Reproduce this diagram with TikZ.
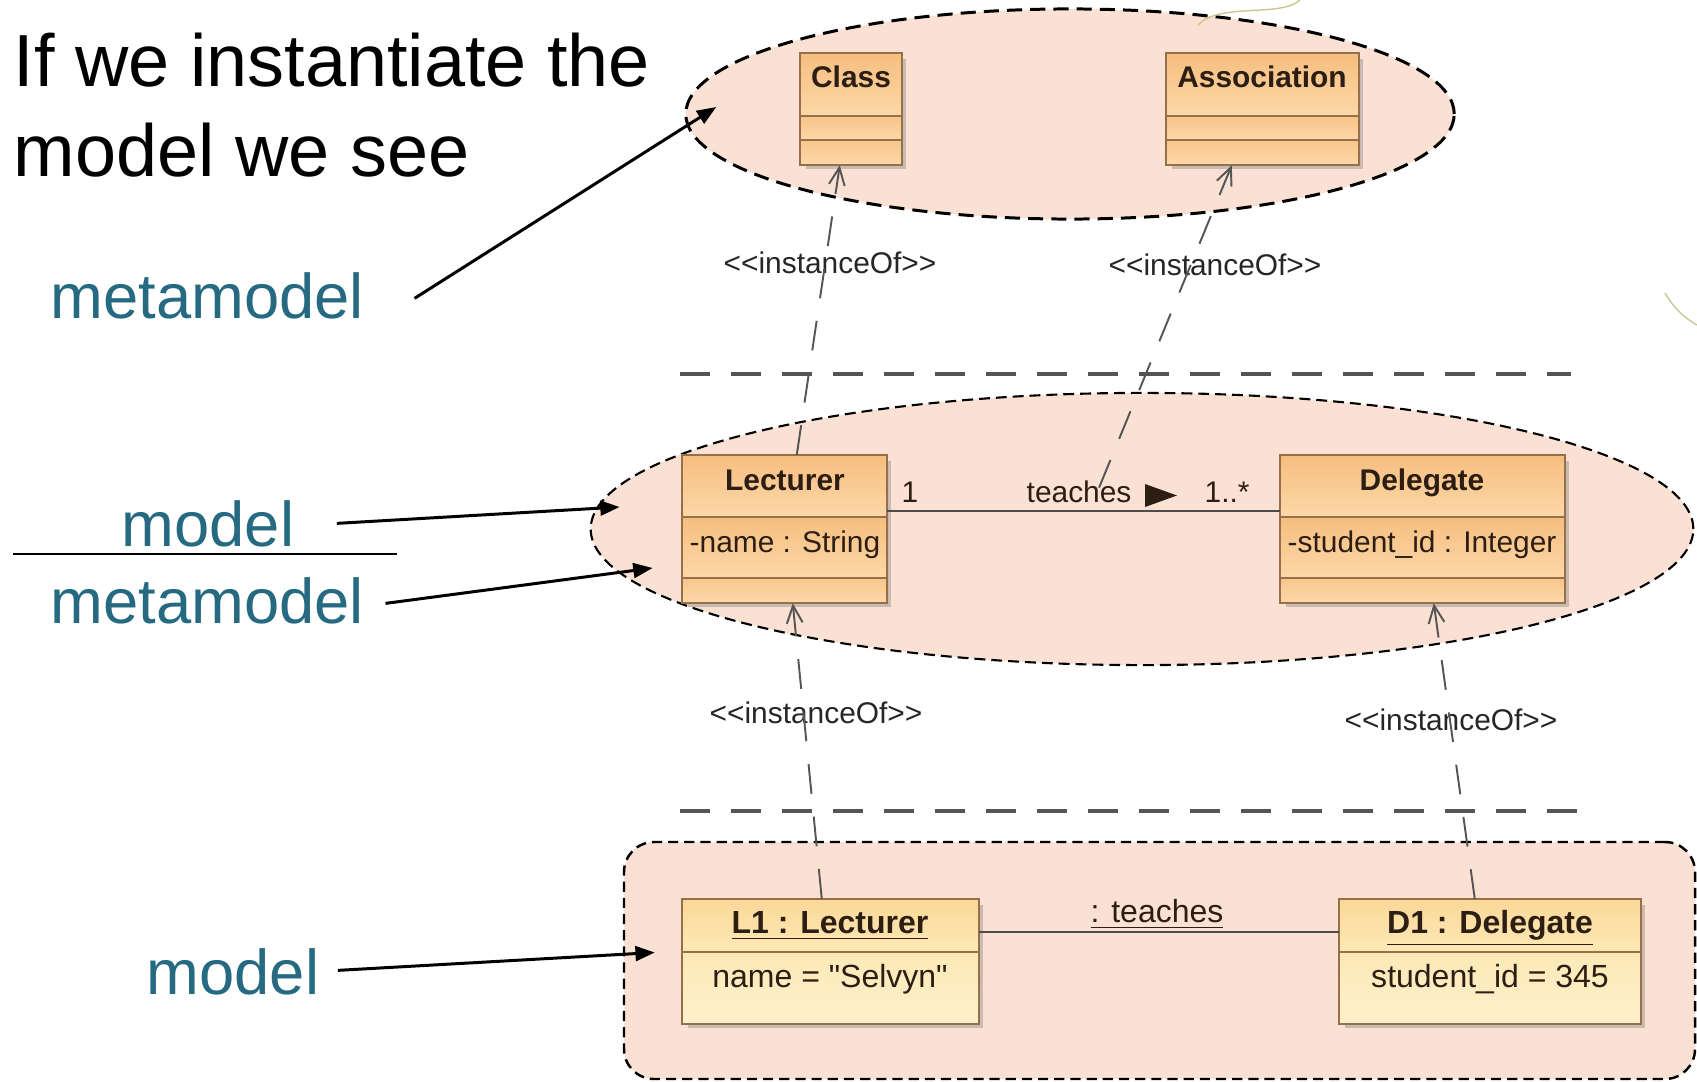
\documentclass[tikz,border=0pt]{standalone}
\usepackage{fontspec}
\setmainfont{Liberation Sans}
\usetikzlibrary{arrows.meta,fit,calc,shadows,shapes.geometric}

\definecolor{labelteal}{RGB}{38,106,130}
\definecolor{regionfill}{RGB}{251,225,212}
\definecolor{boxborder}{RGB}{150,112,72}
\definecolor{clstop}{RGB}{246,190,128}
\definecolor{clsbot}{RGB}{252,216,168}
\definecolor{objtop}{RGB}{251,216,152}
\definecolor{objbot}{RGB}{253,233,182}
\definecolor{depgray}{RGB}{85,85,85}
\definecolor{boxtext}{RGB}{45,30,20}
\definecolor{scribble}{RGB}{205,198,140}

\newcommand\umlsize{\fontsize{8.5}{10}\selectfont}
\newcommand\objsize{\fontsize{9.1}{11}\selectfont}
\newcommand\instanceof{<\kern0pt<instanceOf>\kern0pt>}
% a straight double quote, from a font loaded without the TeX text mapping
\font\plainsans="Liberation Sans" at 9.1pt
\newcommand\straightquote{{\plainsans\char"22}}
% one gradient strip of a class compartment
\newcommand\shadepart[4]{\shade[top color=#1,bottom color=#2] (#3) rectangle (#4);}

\begin{document}
\begin{tikzpicture}[x=0.01cm,y=-0.01cm,
  bigtext/.style={inner sep=0, anchor=base west, font=\fontsize{21}{25}\selectfont},
  sidelabel/.style={inner sep=0, anchor=base west, text=labelteal, font=\fontsize{18}{22}\selectfont},
  pointer/.style={line width=0.85pt, -{Triangle[length=5.5pt,width=4.2pt]}},
  region/.style={draw=black, fill=regionfill, inner sep=0},
  umlbox/.style={draw=boxborder, line width=0.7pt, inner sep=0, fill=clsbot,
    drop shadow={shadow xshift=1.3pt, shadow yshift=-1.3pt, fill=black!50, opacity=0.4}},
  objbox/.style={umlbox, fill=objbot},
  sep/.style={draw=boxborder, line width=0.7pt},
  cname/.style={inner sep=0, anchor=base, text=boxtext, font=\umlsize\bfseries},
  ctext/.style={inner sep=0, anchor=base west, text=boxtext, font=\umlsize},
  oname/.style={inner sep=0, anchor=base, text=boxtext, font=\objsize\bfseries},
  otext/.style={inner sep=0, anchor=base, text=boxtext, font=\objsize},
  stereo/.style={inner sep=0, text=black!85, font=\umlsize},
  dep/.style={draw=depgray, line width=0.55pt, dash pattern=on 8.5pt off 6.5pt,
    -{Straight Barb[length=5pt,width=4.5pt]}},
  level/.style={draw=depgray, line width=0.9pt, dash pattern=on 8.5pt off 6pt},
  assoc/.style={draw=black!70, line width=0.7pt},
]
\useasboundingbox (0,0) rectangle (1697,1082);

% ---- the three levels ----
\node[region, ellipse, line width=0.85pt, dash pattern=on 4.3pt off 2.3pt,
      minimum width=7.68cm, minimum height=2.10cm] (metaregion) at (1070,114) {};
\node[region, ellipse, line width=0.6pt, dash pattern=on 3.1pt off 1.7pt,
      minimum width=11.02cm, minimum height=2.72cm] (modelregion) at (1142,529) {};
\node[region, rectangle, line width=0.7pt, dash pattern=on 2.9pt off 1.7pt,
      rounded corners=0.3cm, fit={(624,842)(1695,1079)}] (objregion) {};

\draw[level] (680,374) -- (1571,374);
\draw[level] (680,811) -- (1591,811);

% ---- metamodel classes ----
\node[umlbox, fit={(801,54)(901,164)}] (cls) {};
\shadepart{clstop}{clsbot}{801,54}{901,116}
\shadepart{clstop!80!clsbot}{clsbot}{801,116}{901,140}
\shadepart{clstop!70!clsbot}{clsbot}{801,140}{901,164}
\draw[sep] (cls.north west) rectangle (cls.south east);
\draw[sep] (801,116) -- (901,116) (801,140) -- (901,140);
\node[cname] (clsname) at (851,88) {Class};

\node[umlbox, fit={(1167,54)(1358,164)}] (assocbox) {};
\shadepart{clstop}{clsbot}{1167,54}{1358,116}
\shadepart{clstop!80!clsbot}{clsbot}{1167,116}{1358,140}
\shadepart{clstop!70!clsbot}{clsbot}{1167,140}{1358,164}
\draw[sep] (assocbox.north west) rectangle (assocbox.south east);
\draw[sep] (1167,116) -- (1358,116) (1167,140) -- (1358,140);
\node[cname] (assocname) at (1262,88) {Association};

% ---- model classes ----
\node[umlbox, fit={(683,456)(886,602)}] (lect) {};
\shadepart{clstop}{clsbot}{683,456}{886,517}
\shadepart{clstop}{clsbot}{683,517}{886,578}
\shadepart{clstop!70!clsbot}{clsbot}{683,578}{886,602}
\draw[sep] (lect.north west) rectangle (lect.south east);
\draw[sep] (683,517) -- (886,517) (683,578) -- (886,578);
\node[cname] (lectname) at (785,490) {Lecturer};
\node[ctext] (lectattr) at (689,552) {-name : String};

\node[umlbox, fit={(1281,456)(1564,602)}] (deleg) {};
\shadepart{clstop}{clsbot}{1281,456}{1564,517}
\shadepart{clstop}{clsbot}{1281,517}{1564,578}
\shadepart{clstop!70!clsbot}{clsbot}{1281,578}{1564,602}
\draw[sep] (deleg.north west) rectangle (deleg.south east);
\draw[sep] (1281,517) -- (1564,517) (1281,578) -- (1564,578);
\node[cname] (delegname) at (1422,490) {Delegate};
\node[ctext] (delegattr) at (1287,552) {-student\_id : Integer};

\draw[assoc] ($(lect.north east)+(0,56)$) -- ($(deleg.north west)+(0,56)$);
\node[ctext] (multA) at (901,502) {1};
\node[ctext] (teachlbl) at (1026,502) {teaches};
\fill[boxtext] (1145,484) -- (1177,495.5) -- (1145,507) -- cycle;
\node[ctext] (multB) at (1204,502) {1..*};

% ---- objects ----
\node[objbox, fit={(683,900)(978,1023)}] (lone) {};
\shadepart{objtop}{objbot}{683,900}{978,952}
\shadepart{objbot}{objbot!70!white}{683,952}{978,1023}
\draw[sep] (lone.north west) rectangle (lone.south east);
\draw[sep] (683,952) -- (978,952);
\node[oname] (lonename) at (830,933) {\underline{L1 : Lecturer}};
\node[otext] (loneattr) at (830,987) {name = \straightquote Selvyn\straightquote};

\node[objbox, fit={(1340,900)(1640,1023)}] (done) {};
\shadepart{objtop}{objbot}{1340,900}{1640,952}
\shadepart{objbot}{objbot!70!white}{1340,952}{1640,1023}
\draw[sep] (done.north west) rectangle (done.south east);
\draw[sep] (1340,952) -- (1640,952);
\node[oname] (donename) at (1490,933) {\underline{D1 : Delegate}};
\node[otext] (doneattr) at (1490,987) {student\_id = 345};

\draw[assoc] ($(lone.north east)+(0,33)$) -- ($(done.north west)+(0,33)$);
\node[otext] (linklbl) at (1157,922) {\underline{: teaches}};

% ---- instanceOf dependencies ----
\node[stereo] (stA) at (830,263) {\instanceof};
\node[stereo] (stB) at (1215,265) {\instanceof};
\node[stereo] (stC) at (816,713) {\instanceof};
\node[stereo] (stD) at (1451,720) {\instanceof};

\draw[dep] ($(lect.north west)+(115,0)$) -- ($(cls.south west)+(40,0)$);
\draw[dep] ($(teachlbl.north)+(20,8)$) -- ($(assocbox.south west)+(66,0)$);
\draw[dep] ($(lone.north west)+(140,0)$) -- ($(lect.south west)+(111,0)$);
\draw[dep] ($(done.north west)+(136,0)$) -- ($(deleg.south west)+(154,0)$);

% ---- left-hand captions ----
\node[bigtext] (titleA) at (13,87) {If we instantiate the};
\node[bigtext] (titleB) at (13,176) {model we see};

\node[sidelabel] (lblmetaA) at (50,318) {metamodel};
\node[sidelabel] (lblmodelA) at (121,546) {model};
\draw[line width=0.85pt] (13,554) -- (397,554);
\node[sidelabel] (lblmetaB) at (50,623) {metamodel};
\node[sidelabel] (lblmodelB) at (146,994) {model};

\draw[pointer] ($(lblmetaA.east)+(50,3)$) -- ($(metaregion.west)+(32,-7)$);
\draw[pointer] ($(lblmodelA.east)+(42,0)$) -- ($(modelregion.west)+(30,-22)$);
\draw[pointer] ($(lblmetaB.east)+(21,3)$) -- ($(modelregion.west)+(63,39)$);
\draw[pointer] ($(lblmodelB.east)+(18,-1)$) -- ($(objregion.west)+(32,-8)$);

% ---- faint pen strokes ----
\draw[scribble, line width=0.4pt] (1198,25) .. controls (1220,2) and (1280,18) .. (1300,0);
\draw[scribble, line width=0.4pt] (1665,293) .. controls (1675,310) and (1685,318) .. (1697,325);
\end{tikzpicture}
\end{document}
